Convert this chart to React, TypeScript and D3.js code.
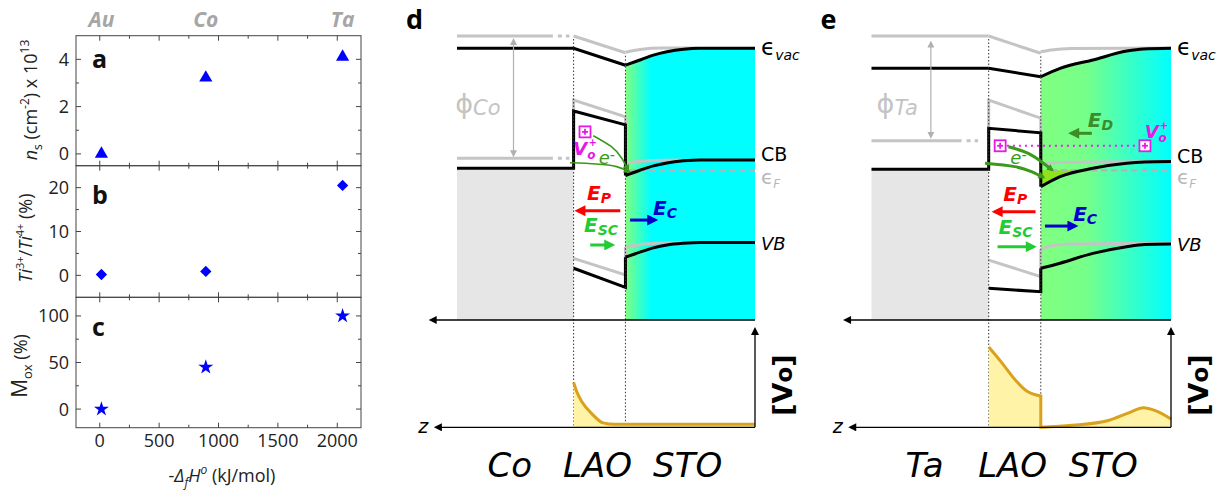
import React from 'react';
import * as d3 from 'd3';

type Pt = [number, number];

// ---------- panels a-c : values ----------
const metalNames = ['Au', 'Co', 'Ta'];
const enthalpy = [14, 893, 2045];
const sheetDensity = [0, 3.22, 4.1];
const tiRatio = [0.2, 0.9, 20.5];
const oxidized = [0, 45, 100];
const enthalpyTicks = [0, 500, 1000, 1500, 2000];
const enthalpyMinor = [250, 750, 1250, 1750];

// ---------- panel d (Co / LAO / STO), z in LAO thicknesses, E in eV ----------
const coVacGray: Pt[] = [[-2.25, 5.6], [-0.4, 5.6]];
const coVacGrayTail: Pt[] = [[-0.4, 5.6], [0, 5.6]];
const coVacGrayLao: Pt[] = [[0, 5.6], [1, 4.9]];
const coVacGraySto: Pt[] = [[1, 4.92], [1.28, 5.04], [1.7, 5.1], [2.4, 5.1]];
const coFermiGray: Pt[] = [[-2.25, 0.5], [-0.4, 0.5]];
const coFermiGrayTail: Pt[] = [[-0.4, 0.5], [0, 0.5]];
const coCbGrayLao: Pt[] = [[0, 0.5], [0, 2.93], [1, 2.23], [1, 0.29]];
const coCbGraySto: Pt[] = [[1, 0.29], [1.3, 0.37], [1.7, 0.42], [2.1, 0.43]];
const coVbGrayLao: Pt[] = [[0, -3.68], [1, -4.37], [1, -3.2]];
const coVbGraySto: Pt[] = [[1, -3.2], [1.3, -3.1], [1.7, -3.04], [2.1, -3.02]];
const coVacLao: Pt[] = [[-2.25, 5.09], [0, 5.09], [1, 4.38]];
const coVacSto: Pt[] = [[1, 4.38], [1.28, 4.6], [1.54, 4.8], [1.8, 4.94], [2.12, 5.05], [2.44, 5.09], [3.5, 5.09]];
const coCbLao: Pt[] = [[-2.25, 0.08], [0, 0.08], [0, 2.47], [1, 1.89], [1, -0.22]];
const coCbSto: Pt[] = [[1, -0.22], [1.28, 0.0], [1.54, 0.18], [1.8, 0.3], [2.12, 0.39], [2.44, 0.43], [3.5, 0.43]];
const coVbLao: Pt[] = [[0, -4.09], [1, -4.89], [1, -3.63]];
const coVbSto: Pt[] = [[1, -3.63], [1.28, -3.42], [1.54, -3.24], [1.8, -3.12], [2.12, -3.05], [2.44, -3.02], [3.5, -3.02]];
const coVoLao: Pt[] = [[0, 0.457], [0.06, 0.364], [0.16, 0.26], [0.35, 0.14], [0.57, 0.045], [0.8, 0.03], [1, 0.03]];
const coVoSto: Pt[] = [[1, 0.03], [3.5, 0.03]];
const coVoBoxes: Pt[] = [[0.22, 1.6]];
const coElectronPaths: Pt[][] = [
  [[0.38, 1.44], [0.73, 0.98], [0.93, 0.5], [1.05, 0.01]],
  [[-0.07, 0.31], [0.44, 0.26], [0.83, 0.15], [1.07, -0.06]],
];
const coFieldP: Pt[] = [[0.9, -1.69], [0.08, -1.69]];
const coFieldC: Pt[] = [[1.09, -2.08], [1.57, -2.08]];
const coFieldSC: Pt[] = [[0.32, -3.12], [0.74, -3.12]];

// ---------- panel e (Ta / LAO / STO) ----------
const taVacGray: Pt[] = [[-2.25, 5.6], [0, 5.6]];
const taVacGrayLao: Pt[] = [[0, 5.6], [1, 4.88]];
const taVacGraySto: Pt[] = [[1, 4.94], [1.2, 5.02], [1.6, 5.08], [3.5, 5.1]];
const taFermiGray: Pt[] = [[-2.25, 1.23], [-0.52, 1.23]];
const taFermiGrayTail: Pt[] = [[-0.52, 1.23], [0, 1.23]];
const taCbGrayLao: Pt[] = [[0, 1.23], [0, 2.93], [1, 2.17], [1, 0.22]];
const taCbGraySto: Pt[] = [[1, 0.22], [1.2, 0.3], [1.6, 0.33], [3.5, 0.36]];
const taVbGrayLao: Pt[] = [[0, -3.75], [1, -4.44], [1, -3.3]];
const taVbGraySto: Pt[] = [[1, -3.3], [1.2, -3.15], [1.6, -3.08], [2.5, -3.06], [3.5, -3.06]];
const taVacLao: Pt[] = [[-2.25, 4.25], [0, 4.25], [1, 3.9]];
const taVacSto: Pt[] = [[1, 3.9], [1.37, 4.25], [2.0, 4.6], [2.65, 4.97], [2.97, 5.06], [3.5, 5.09]];
const taCbLao: Pt[] = [[-2.25, 0.04], [0, 0.04], [0, 1.75], [1, 1.56], [1, -0.69]];
const taCbSto: Pt[] = [[1, -0.69], [1.37, -0.27], [2.0, 0.08], [2.65, 0.29], [3.0, 0.34], [3.5, 0.36]];
const taVbLao: Pt[] = [[0, -4.93], [1, -5.07], [1, -4.09]];
const taVbSto: Pt[] = [[1, -4.09], [1.37, -3.88], [2.0, -3.47], [2.65, -3.19], [3.0, -3.1], [3.5, -3.08]];
const taVoLao: Pt[] = [[0, 0.82], [0.25, 0.66], [0.5, 0.49], [0.73, 0.37], [1, 0.32]];
const taVoSto: Pt[] = [[1, 0], [1.6, 0.02], [2.3, 0.07], [2.7, 0.15], [2.97, 0.2], [3.2, 0.17], [3.5, 0.085]];
const taVoBoxes: Pt[] = [[0.22, 1.02], [3.0, 1.02]];
const taElectronPaths: Pt[][] = [
  [[0.38, 0.98], [0.76, 0.7], [1.05, 0.29], [1.22, 0.01]],
  [[-0.07, 0.29], [0.5, 0.15], [0.82, -0.06], [1.05, -0.3]],
];
const taFieldP: Pt[] = [[0.9, -1.73], [0.12, -1.73]];
const taFieldC: Pt[] = [[1.08, -2.33], [1.66, -2.33]];
const taFieldSC: Pt[] = [[0.17, -3.19], [0.86, -3.19]];
const taFieldD: Pt[] = [[1.98, 1.54], [1.59, 1.54]];

const SANS = 'Open Sans, Noto Sans, sans-serif';
const VERD = 'DejaVu Sans, sans-serif';
const BLUE = '#0000ff';
const GRAY = '#c4c4c4';

// ---------------------------------------------------------------------
const xEnth = d3.scaleLinear().domain([-200, 2200]).range([76, 361]);

function ScatterPanel({ top, bottom, domain, major, minor, values, symbol, rotate, size, letter, letterY, showX }: any) {
  const ys = d3.scaleLinear().domain(domain).range([bottom, top]);
  const [l, r] = xEnth.range();
  const sym = d3.symbol().type(symbol).size(size)() as string;
  const stroke = '#444';
  return (
    <g>
      <rect x={l} y={top} width={r - l} height={bottom - top} fill="none" stroke={stroke} strokeWidth={1} />
      {[...enthalpyTicks.map(t => [t, 5]), ...enthalpyMinor.map(t => [t, 3])].map(([t, len], i) => (
        <g key={'x' + i} stroke={stroke}>
          <line x1={xEnth(t)} x2={xEnth(t)} y1={top} y2={top + len} />
          <line x1={xEnth(t)} x2={xEnth(t)} y1={bottom} y2={bottom - len} />
        </g>
      ))}
      {[...major.map((t: number) => [t, 5]), ...minor.map((t: number) => [t, 3])].map(([t, len]: number[], i: number) => (
        <g key={'y' + i} stroke={stroke}>
          <line x1={l} x2={l + len} y1={ys(t)} y2={ys(t)} />
          <line x1={r} x2={r - len} y1={ys(t)} y2={ys(t)} />
        </g>
      ))}
      {major.map((t: number) => (
        <text key={'yl' + t} x={l - 7} y={ys(t)} dy="0.36em" textAnchor="end" fontFamily={SANS} fontSize={18} fill="#222">{t}</text>
      ))}
      {showX && enthalpyTicks.map(t => (
        <text key={'xl' + t} x={xEnth(t)} y={bottom + 19} textAnchor="middle" fontFamily={SANS} fontSize={18} fill="#222">{t}</text>
      ))}
      {values.map((v: number, i: number) => (
        <path key={'m' + i} d={sym} fill={BLUE}
          transform={`translate(${xEnth(enthalpy[i])},${ys(v)}) rotate(${rotate})`} />
      ))}
      <text x={l + 16} y={letterY} fontFamily={SANS} fontWeight="bold" fontSize={25} fill="#111">{letter}</text>
    </g>
  );
}

function LeftPanels() {
  return (
    <g>
      {metalNames.map((m, i) => (
        <text key={m} x={xEnth(enthalpy[i])} y={27} textAnchor="middle" fontFamily={SANS} fontWeight="bold"
          fontStyle="italic" fontSize={21} fill="#a6a6a6">{m}</text>
      ))}
      <ScatterPanel top={35.7} bottom={165.7} domain={[-0.5, 5]} major={[0, 2, 4]} minor={[1, 3]}
        values={sheetDensity} symbol={d3.symbolTriangle} rotate={0} size={75} letter="a" letterY={68} />
      <ScatterPanel top={165.7} bottom={297.3} domain={[-5, 25]} major={[0, 10, 20]} minor={[5, 15]}
        values={tiRatio} symbol={d3.symbolSquare} rotate={45} size={64} letter="b" letterY={204} />
      <ScatterPanel top={297.3} bottom={427.7} domain={[-20, 120]} major={[0, 50, 100]} minor={[25, 75]}
        values={oxidized} symbol={d3.symbolStar} rotate={0} size={70} letter="c" letterY={336} showX />
      <text transform="translate(37,100) rotate(-90)" textAnchor="middle" fontFamily={SANS} fontSize={18} fill="#222">
        <tspan fontStyle="italic">n</tspan><tspan dy={5} fontSize={12}>s</tspan>
        <tspan dy={-5}> (cm</tspan><tspan dy={-8} fontSize={12}>-2</tspan><tspan dy={8}>) x 10</tspan>
        <tspan dy={-8} fontSize={12}>13</tspan>
      </text>
      <text transform="translate(32,238) rotate(-90)" textAnchor="middle" fontFamily={SANS} fontSize={18} fill="#222">
        <tspan fontStyle="italic">Ti</tspan><tspan dy={-8} fontSize={11}>3+</tspan>
        <tspan dy={8}>/</tspan><tspan fontStyle="italic">Ti</tspan><tspan dy={-8} fontSize={11}>4+</tspan>
        <tspan dy={8}> (%)</tspan>
      </text>
      <text transform="translate(27,366) rotate(-90)" textAnchor="middle" fontFamily={SANS} fontSize={18} fill="#222">
        <tspan fontSize={21}>M</tspan><tspan dy={5} fontSize={13}>ox</tspan><tspan dy={-5}> (%)</tspan>
      </text>
      <text x={222} y={482} textAnchor="middle" fontFamily={SANS} fontSize={18} fill="#222">
        <tspan>-</tspan><tspan fontStyle="italic">Δ</tspan><tspan dy={5} fontSize={12} fontStyle="italic">f</tspan>
        <tspan dy={-5} fontStyle="italic">H</tspan><tspan dy={-8} fontSize={12} fontStyle="italic">o</tspan>
        <tspan dy={8}> (kJ/mol)</tspan>
      </text>
    </g>
  );
}

// ---------------------------------------------------------------------
function FieldLabel({ x, y, sub, color, anchor = 'middle' }: any) {
  return (
    <text x={x} y={y} textAnchor={anchor} fontFamily={VERD} fontWeight="bold" fontStyle="italic" fontSize={20} fill={color}>
      E<tspan dy={3} fontSize={14}>{sub}</tspan>
    </text>
  );
}

function BandPanel(p: any) {
  const xs = d3.scaleLinear().domain([-2.25, 3.5]).range([p.left, p.right]);
  const ys = d3.scaleLinear().domain([-6.25, 5.6]).range([320, 36]);
  const yc = d3.scaleLinear().domain([0, 1]).range([427.3, 329.3]);
  const straight = d3.line<Pt>().x(d => xs(d[0])).y(d => ys(d[1]));
  const smooth = d3.line<Pt>().x(d => xs(d[0])).y(d => ys(d[1])).curve(d3.curveMonotoneX);
  const concLine = d3.line<Pt>().x(d => xs(d[0])).y(d => yc(d[1])).curve(d3.curveMonotoneX);
  const concArea = d3.area<Pt>().x(d => xs(d[0])).y0(yc(0)).y1(d => yc(d[1])).curve(d3.curveMonotoneX);
  const stoFill = d3.area<Pt>().x(d => xs(d[0])).y0(ys(-6.25)).y1(d => ys(d[1])).curve(d3.curveMonotoneX);
  const accFill = d3.area<Pt>().x(d => xs(d[0])).y0(ys(0)).y1(d => ys(Math.min(d[1], 0))).curve(d3.curveMonotoneX);
  const eCurve = d3.line<Pt>().x(d => xs(d[0])).y(d => ys(d[1])).curve(d3.curveNatural);
  const gid = 'sto-' + p.letter;
  const right = xs(3.5);
  const fermiY = p.cbLao[0][1];
  const gl = { fill: 'none', stroke: GRAY, strokeWidth: 3 };
  const bl = { fill: 'none', stroke: '#000', strokeWidth: 3, strokeLinejoin: 'miter' as const };
  const concPath = (concLine(p.voLao) ?? '') + (concLine(p.voSto) ?? '').replace(/^M/, 'L');
  const arrowPath = (pts: Pt[]) => `M${xs(pts[0][0])},${ys(pts[0][1])}L${xs(pts[1][0])},${ys(pts[1][1])}`;
  const mid = (pts: Pt[]) => (xs(pts[0][0]) + xs(pts[1][0])) / 2;
  return (
    <g>
      <defs>
        <linearGradient id={gid} gradientUnits="userSpaceOnUse" x1={xs(1)} x2={right} y1={0} y2={0}>
          {p.stops.map((s: [number, string], i: number) => <stop key={i} offset={s[0]} stopColor={s[1]} />)}
        </linearGradient>
      </defs>
      <text x={p.left - 51} y={29} fontFamily={SANS} fontWeight="bold" fontSize={27} fill="#000">{p.letter}</text>
      {/* fills */}
      <rect x={xs(-2.25)} y={ys(fermiY)} width={xs(0) - xs(-2.25)} height={ys(-6.25) - ys(fermiY)} fill="#e6e6e6" />
      <path d={stoFill(p.vacSto) ?? ''} fill={`url(#${gid})`} />
      <path d={accFill(p.cbSto) ?? ''} fill="#8fe31a" />
      {/* reference (gray) bands */}
      <path d={straight(p.vacGray) ?? ''} {...gl} />
      {p.vacGrayTail && <path d={straight(p.vacGrayTail) ?? ''} {...gl} strokeDasharray="0 5 4 4 3.5 40" />}
      <path d={straight(p.vacGrayLao) ?? ''} {...gl} />
      <path d={smooth(p.vacGraySto) ?? ''} {...gl} />
      <path d={straight(p.fermiGray) ?? ''} {...gl} />
      <path d={straight(p.fermiGrayTail) ?? ''} {...gl} strokeDasharray="0 5 4 4 3.5 40" />
      <path d={straight(p.cbGrayLao) ?? ''} {...gl} />
      <path d={smooth(p.cbGraySto) ?? ''} {...gl} />
      <path d={straight(p.vbGrayLao) ?? ''} {...gl} />
      <path d={smooth(p.vbGraySto) ?? ''} {...gl} />
      <line x1={xs(p.fermiStart)} x2={right} y1={ys(0)} y2={ys(0)} stroke="#b4b4b4" strokeWidth={2.5} strokeDasharray="6 4" />
      {/* actual bands */}
      <path d={straight(p.vacLao) ?? ''} {...bl} />
      <path d={smooth(p.vacSto) ?? ''} {...bl} />
      <path d={straight(p.cbLao) ?? ''} {...bl} />
      <path d={smooth(p.cbSto) ?? ''} {...bl} />
      <path d={straight(p.vbLao) ?? ''} {...bl} />
      <path d={smooth(p.vbSto) ?? ''} {...bl} />
      {/* interface guides */}
      {[0, 1].map((z, i) => (
        <line key={z} x1={xs(z)} x2={xs(z)} y1={ys(p.guideTops[i]) + 3} y2={yc(0)} stroke="#333" strokeWidth={1} strokeDasharray="1.5 2" />
      ))}
      {/* work function */}
      <line x1={xs(p.phiX)} x2={xs(p.phiX)} y1={ys(p.phiRange[0])} y2={ys(p.phiRange[1])} stroke="#b0b0b0" strokeWidth={1.2}
        markerStart="url(#ah-gray)" markerEnd="url(#ah-gray)" />
      <text x={xs(p.phiX) - 13} y={ys(2.4)} textAnchor="end" fontFamily={VERD} fontSize={27} fill={GRAY}>
        ϕ<tspan dy={2} fontSize={21} fontStyle="italic">{p.metal}</tspan>
      </text>
      {/* oxygen vacancies and electrons */}
      {p.voLine && (
        <line x1={xs(p.voLine[0][0])} x2={xs(p.voLine[1][0])} y1={ys(p.voLine[0][1])} y2={ys(p.voLine[1][1])}
          stroke="#ee22ee" strokeWidth={2} strokeDasharray="2 4" />
      )}
      {p.voBoxes.map((b: Pt, i: number) => (
        <g key={i} transform={`translate(${xs(b[0])},${ys(b[1])})`} stroke="#e619e6" strokeWidth={1.8} fill="#fff">
          <rect x={-5.5} y={-5.5} width={11} height={11} />
          <line x1={-3} x2={3} y1={0} y2={0} />
          <line x1={0} x2={0} y1={-3} y2={3} />
        </g>
      ))}
      <text x={xs(p.voLabel[0])} y={ys(p.voLabel[1])} textAnchor="middle" fontFamily={VERD} fontWeight="bold" fontStyle="italic" fontSize={18} fill="#e619e6">
        V<tspan dy={4} fontSize={12}>o</tspan><tspan dy={-13} dx={-7} fontSize={10}>+</tspan>
      </text>
      {p.electronPaths.map((ep: Pt[], i: number) => (
        <path key={i} d={eCurve(ep) ?? ''} fill="none" stroke="#3a9a1a" strokeWidth={p.eWidth} markerEnd="url(#ah-egreen)" />
      ))}
      <text x={xs(p.eLabel[0])} y={ys(p.eLabel[1]) + 6} textAnchor="middle" fontFamily={VERD} fontStyle="italic" fontSize={18} fill="#3a9a1a">
        e<tspan dy={-4} fontSize={14}>-</tspan>
      </text>
      {/* fields */}
      <path d={arrowPath(p.fieldP)} stroke="#ff0000" strokeWidth={3} markerEnd="url(#ah-red)" />
      <FieldLabel x={mid(p.fieldP)} y={ys(p.fieldP[0][1]) - 11} sub="P" color="#ff0000" />
      <path d={arrowPath(p.fieldC)} stroke="#0000cc" strokeWidth={3} markerEnd="url(#ah-blue)" />
      <FieldLabel x={xs(p.fieldC[1][0]) - 2} y={ys(p.fieldC[0][1]) - 5} sub="C" color="#0000cc" anchor="start" />
      <path d={arrowPath(p.fieldSC)} stroke="#22cc33" strokeWidth={3} markerEnd="url(#ah-green)" />
      <FieldLabel x={mid(p.fieldSC)} y={ys(p.fieldSC[0][1]) - 13} sub="SC" color="#22cc33" />
      {p.fieldD && (
        <g>
          <path d={arrowPath(p.fieldD)} stroke="#3c8c28" strokeWidth={3} markerEnd="url(#ah-dgreen)" />
          <FieldLabel x={xs(p.fieldD[0][0]) - 4} y={ys(p.fieldD[0][1]) - 6} sub="D" color="#3c8c28" anchor="start" />
        </g>
      )}
      {/* band labels */}
      <text x={right + 6} y={ys(p.vacSto[p.vacSto.length - 1][1]) + 7} fontFamily={VERD} fontSize={23} fill="#000">
        ϵ<tspan dy={5} fontSize={14} fontStyle="italic">vac</tspan>
      </text>
      <text x={right + 6} y={ys(p.cbSto[p.cbSto.length - 1][1]) + 1} fontFamily={VERD} fontSize={19} fill="#000">CB</text>
      <text x={right + 6} y={ys(0) + 14} fontFamily={VERD} fontSize={20} fill="#b8b8b8">
        ϵ<tspan dy={4} fontSize={12} fontStyle="italic">F</tspan>
      </text>
      <text x={right + 6} y={ys(p.vbSto[p.vbSto.length - 1][1]) + 7} fontFamily={VERD} fontStyle="italic" fontSize={18} fill="#000">VB</text>
      {/* energy axis */}
      <line x1={right} x2={xs(-2.75)} y1={ys(-6.25)} y2={ys(-6.25)} stroke="#000" strokeWidth={1.3} markerEnd="url(#ah-black)" />
      {/* vacancy concentration */}
      <path d={concArea(p.voLao) ?? ''} fill="#fff3a8" />
      <path d={concArea(p.voSto) ?? ''} fill="#fff3a8" />
      <path d={concPath} fill="none" stroke="#d9a11c" strokeWidth={3} />
      <line x1={right} x2={xs(-2.65)} y1={yc(0)} y2={yc(0)} stroke="#000" strokeWidth={1.3} markerEnd="url(#ah-black)" />
      <line x1={right} x2={right} y1={yc(0)} y2={yc(1)} stroke="#000" strokeWidth={1.3} markerEnd="url(#ah-black)" />
      <text x={xs(-2.9)} y={yc(0) + 6} textAnchor="middle" fontFamily={VERD} fontStyle="italic" fontSize={19} fill="#000">z</text>
      <text transform={`translate(${right + 37},${yc(0.43)}) rotate(-90)`} textAnchor="middle" fontFamily={VERD} fontWeight="bold" fontSize={27} fill="#000">
        [V<tspan fontSize={23}>o</tspan>]
      </text>
      {/* layer names */}
      {[[-1.23, p.metal], [0.46, 'LAO'], [2.2, 'STO']].map(([z, name]) => (
        <text key={name as string} x={xs(z as number)} y={477} textAnchor="middle" fontFamily={VERD} fontStyle="italic" fontSize={34} fill="#000">{name}</text>
      ))}
    </g>
  );
}

function Marker({ id, color, w = 10, h = 10 }: any) {
  return (
    <marker id={id} viewBox="0 0 10 10" refX={7} refY={5} markerWidth={w} markerHeight={h} orient="auto-start-reverse" markerUnits="userSpaceOnUse">
      <path d="M0,0 L10,5 L0,10 z" fill={color} />
    </marker>
  );
}

export default function App() {
  return (
    <div style={{ position: 'absolute', left: 0, top: 0 }}>
      <svg width={1217} height={493} style={{ display: 'block', background: '#fff' }}>
        <defs>
          <Marker id="ah-black" color="#000" w={11} h={8} />
          <Marker id="ah-gray" color="#b0b0b0" w={7} h={7} />
          <Marker id="ah-red" color="#ff0000" w={12} h={11} />
          <Marker id="ah-blue" color="#0000cc" w={12} h={11} />
          <Marker id="ah-green" color="#22cc33" w={12} h={11} />
          <Marker id="ah-dgreen" color="#3c8c28" w={12} h={11} />
          <Marker id="ah-egreen" color="#3a9a1a" w={8} h={7} />
        </defs>
        <LeftPanels />
        <BandPanel letter="d" metal="Co" left={457} right={755}
          vacGray={coVacGray} vacGrayTail={coVacGrayTail} vacGrayLao={coVacGrayLao} vacGraySto={coVacGraySto}
          fermiGray={coFermiGray} fermiGrayTail={coFermiGrayTail}
          cbGrayLao={coCbGrayLao} cbGraySto={coCbGraySto} vbGrayLao={coVbGrayLao} vbGraySto={coVbGraySto}
          vacLao={coVacLao} vacSto={coVacSto} cbLao={coCbLao} cbSto={coCbSto} vbLao={coVbLao} vbSto={coVbSto}
          voLao={coVoLao} voSto={coVoSto} voBoxes={coVoBoxes} voLabel={[0.22, 0.62]}
          electronPaths={coElectronPaths} eWidth={1.6} eLabel={[0.64, 0.5]}
          fieldP={coFieldP} fieldC={coFieldC} fieldSC={coFieldSC}
          guideTops={[5.6, 4.9]} phiX={-1.16} phiRange={[5.43, 0.63]} fermiStart={1.08}
          stops={[[0, '#80ff80'], [0.2, '#00ffff'], [1, '#00ffff']]} />
        <BandPanel letter="e" metal="Ta" left={871.5} right={1171}
          vacGray={taVacGray} vacGrayLao={taVacGrayLao} vacGraySto={taVacGraySto}
          fermiGray={taFermiGray} fermiGrayTail={taFermiGrayTail}
          cbGrayLao={taCbGrayLao} cbGraySto={taCbGraySto} vbGrayLao={taVbGrayLao} vbGraySto={taVbGraySto}
          vacLao={taVacLao} vacSto={taVacSto} cbLao={taCbLao} cbSto={taCbSto} vbLao={taVbLao} vbSto={taVbSto}
          voLao={taVoLao} voSto={taVoSto} voBoxes={taVoBoxes} voLabel={[3.22, 1.34]}
          voLine={[[0.35, 1.02], [2.88, 1.02]]}
          electronPaths={taElectronPaths} eWidth={3} eLabel={[0.57, 0.5]}
          fieldP={taFieldP} fieldC={taFieldC} fieldSC={taFieldSC} fieldD={taFieldD}
          guideTops={[5.6, 4.88]} phiX={-1.11} phiRange={[5.32, 1.4]} fermiStart={1.2}
          stops={[[0, '#80ff80'], [0.35, '#76ff8a'], [1, '#00ffff']]} />
      </svg>
    </div>
  );
}
